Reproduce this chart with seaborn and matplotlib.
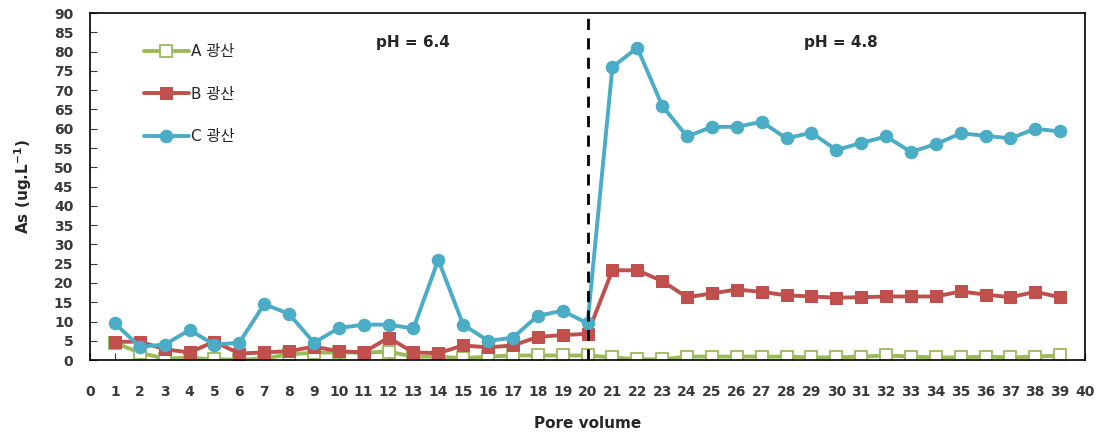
import matplotlib
matplotlib.use("Agg")
import matplotlib.pyplot as plt
import pandas as pd
import seaborn as sns

# 데이터
pore_volume = list(range(1, 40))
mine_a = [4.5, 1.9, 0.4, 0.6, 0.2, 0.1, 0.4, 1.5, 1.9, 2.0, 1.9, 2.2, 0.9, 0.9, 0.5,
          0.9, 1.2, 1.2, 1.2, 1.2, 0.7, 0.2, 0.2, 0.9, 0.9, 0.9, 0.9, 0.9, 0.7, 0.7,
          0.9, 1.2, 0.9, 0.7, 0.7, 0.9, 0.7, 0.9, 1.2]
mine_b = [4.7, 4.8, 2.8, 2.0, 4.8, 1.7, 2.0, 2.3, 3.5, 2.3, 2.0, 5.8, 2.0, 1.8, 3.8,
          3.3, 3.8, 6.0, 6.5, 6.8, 23.3, 23.3, 20.5, 16.3, 17.3, 18.3, 17.7, 16.8, 16.5, 16.2,
          16.3, 16.5, 16.5, 16.5, 17.8, 17.0, 16.3, 17.7, 16.3]
mine_c = [9.5, 3.5, 4.0, 7.8, 4.0, 4.5, 14.5, 12.0, 4.5, 8.3, 9.2, 9.2, 8.2, 26.0, 9.2,
          5.0, 5.8, 11.5, 12.8, 9.5, 76.0, 81.0, 66.0, 58.0, 60.5, 60.5, 61.8, 57.5, 59.0, 54.5,
          56.3, 58.0, 54.0, 56.0, 58.8, 58.2, 57.5, 60.0, 59.3]
labels = ['A 광산', 'B 광산', 'C 광산']

df = pd.DataFrame({'pv': pore_volume, 'A': mine_a, 'B': mine_b, 'C': mine_c})

sns.set_style('ticks')
plt.rcParams['font.family'] = ['DejaVu Sans', 'Noto Sans CJK KR']

fig = plt.figure(figsize=(11.02, 4.37), dpi=100)
ax = fig.add_axes([0.0817, 0.176, 0.9029, 0.794])

sns.lineplot(x='pv', y='A', data=df, ax=ax, color='#9BBB59', lw=2.8, marker='s',
             markersize=9, markerfacecolor='white', markeredgecolor='#9BBB59',
             markeredgewidth=1.3, label=labels[0])
sns.lineplot(x='pv', y='B', data=df, ax=ax, color='#C0504D', lw=2.8, marker='s',
             markersize=9, markeredgecolor='#C0504D', label=labels[1])
sns.lineplot(x='pv', y='C', data=df, ax=ax, color='#4BACC6', lw=2.8, marker='o',
             markersize=9, markeredgecolor='#4BACC6', label=labels[2])

ax.axvline(20, color='black', ls=(0, (4, 3)), lw=2)
ax.text(13, 82.5, 'pH = 6.4', ha='center', va='center', fontsize=11, fontweight='bold')
ax.text(30.2, 82.5, 'pH = 4.8', ha='center', va='center', fontsize=11, fontweight='bold')

ax.set_xlim(0, 40)
ax.set_ylim(0, 90)
ax.set_xticks(range(0, 41))
ax.set_yticks(range(0, 91, 5))
ax.tick_params(direction='in', length=5, labelsize=10, colors='#3a3a3a')
ax.tick_params(axis='x', pad=18)
ax.tick_params(axis='y', pad=12)
for t in ax.get_xticklabels() + ax.get_yticklabels():
    t.set_fontweight('bold')
for s in ax.spines.values():
    s.set_linewidth(1.2)
    s.set_color('black')

ax.set_xlabel('Pore volume', fontsize=11, fontweight='bold', labelpad=12)
ax.set_ylabel('As (ug.L$^{\\mathbf{-1}}$)', fontsize=11, fontweight='bold', labelpad=14)

ax.legend(loc='upper left', bbox_to_anchor=(0.04, 0.95), frameon=False,
          fontsize=11, labelspacing=1.8, handlelength=3, handletextpad=0.1)

fig.savefig('out.png', dpi=100)
